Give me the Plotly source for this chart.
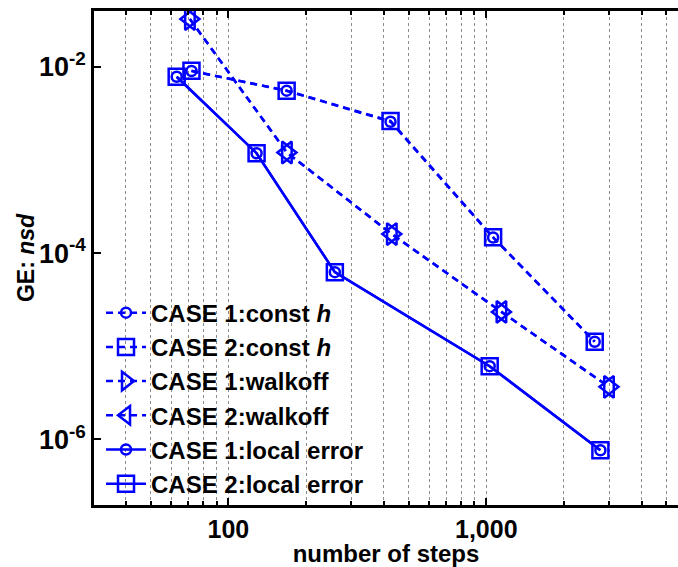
import math
import plotly.graph_objects as go

# Global error (normalised std. dev.) versus number of steps
steps_c1_const = [71.9, 168.2, 425.3, 1063, 2634]
ge_c1_const = [8.99e-3, 5.53e-3, 2.57e-3, 1.47e-4, 1.12e-5]
steps_c2_const = [71.9, 168.2, 425.3, 1063, 2634]
ge_c2_const = [9.05e-3, 5.53e-3, 2.62e-3, 1.48e-4, 1.12e-5]

steps_c1_walk = [70.9, 168.6, 430.2, 1145, 2992]
ge_c1_walk = [3.25e-2, 1.20e-3, 1.60e-4, 2.34e-5, 3.67e-6]
steps_c2_walk = [70.9, 168.6, 430.2, 1145, 2992]
ge_c2_walk = [3.25e-2, 1.20e-3, 1.60e-4, 2.34e-5, 3.67e-6]

steps_c1_local = [63.0, 128.6, 258.7, 1031, 2771]
ge_c1_local = [7.81e-3, 1.18e-3, 6.25e-5, 6.12e-6, 7.67e-7]
steps_c2_local = [63.0, 128.6, 258.7, 1031, 2771]
ge_c2_local = [7.81e-3, 1.18e-3, 6.25e-5, 6.12e-6, 7.67e-7]

series_names = [
    "CASE 1:const <i>h</i>",
    "CASE 2:const <i>h</i>",
    "CASE 1:walkoff",
    "CASE 2:walkoff",
    "CASE 1:local error",
    "CASE 2:local error",
]

x_ticks = [100, 1000]
x_ticktext = ["100", "1,000"]
y_ticks = [1e-2, 1e-4, 1e-6]
y_ticktext = ["10<sup>-2</sup>", "10<sup>-4</sup>", "10<sup>-6</sup>"]

BLUE = "rgb(0,0,255)"
FONT = "Liberation Sans, Arial, sans-serif"

series = [
    (steps_c1_const, ge_c1_const, "dash", "circle-open", 10),
    (steps_c2_const, ge_c2_const, "dash", "square-open", 16),
    (steps_c1_walk, ge_c1_walk, "dash", "triangle-right-open", 19),
    (steps_c2_walk, ge_c2_walk, "dash", "triangle-left-open", 19),
    (steps_c1_local, ge_c1_local, "solid", "circle-open", 10),
    (steps_c2_local, ge_c2_local, "solid", "square-open", 16),
]

fig = go.Figure()
for i, (xs, ys, dash, sym, size) in enumerate(series):
    fig.add_trace(go.Scatter(
        x=xs, y=ys, mode="lines+markers", name=series_names[i],
        legendgroup=f"g{i}",
        line=dict(color=BLUE, width=2.5, dash="7px,5px" if dash == "dash" else "solid"),
        marker=dict(symbol=sym, size=size, color=BLUE, line=dict(color=BLUE, width=2.5)),
    ))

fig.update_layout(
    width=678, height=567,
    margin=dict(l=94, r=0, t=11, b=62),
    paper_bgcolor="white", plot_bgcolor="white",
    font=dict(family=FONT, color="black"),
    showlegend=True,
    legend=dict(
        x=0.012, y=0.434, xanchor="left", yanchor="top",
        bgcolor="rgba(255,255,255,0)", borderwidth=0,
        font=dict(family=FONT, size=24, weight="bold", color="black"),
        tracegroupgap=0, itemwidth=40, itemsizing="trace",
    ),
    xaxis=dict(
        type="log",
        range=[1.4787, 3.7436],
        tickmode="array", tickvals=x_ticks, ticktext=x_ticktext,
        ticks="inside", ticklen=7, tickwidth=2, tickcolor="black",
        tickfont=dict(family=FONT, size=25, weight="bold"),
        showline=True, linecolor="black", linewidth=2.5, mirror="ticks",
        showgrid=True, gridcolor="#8c8c8c", gridwidth=1, griddash="dot",
        minor=dict(dtick="D1", ticks="inside", ticklen=4, tickwidth=1.5, tickcolor="black",
                   showgrid=True, gridcolor="#8c8c8c", gridwidth=1, griddash="dot"),
        zeroline=False,
        title=dict(text="number of steps", font=dict(family=FONT, size=24, weight="bold"),
                   standoff=2),
    ),
    yaxis=dict(
        type="log",
        range=[-6.703, -1.402],
        tickmode="array", tickvals=y_ticks, ticktext=y_ticktext,
        ticks="inside", ticklen=7, tickwidth=2, tickcolor="black",
        tickfont=dict(family=FONT, size=27, weight="bold"),
        showline=True, linecolor="black", linewidth=2.5,
        showgrid=False, zeroline=False,
    ),
    annotations=[dict(
        text="GE: <i>nsd</i>", textangle=-90, showarrow=False,
        xref="paper", yref="paper", x=-0.1164, y=0.5,
        xanchor="center", yanchor="middle",
        font=dict(family=FONT, size=23, weight="bold", color="black"),
    )],
)

fig.write_html("out.html")
